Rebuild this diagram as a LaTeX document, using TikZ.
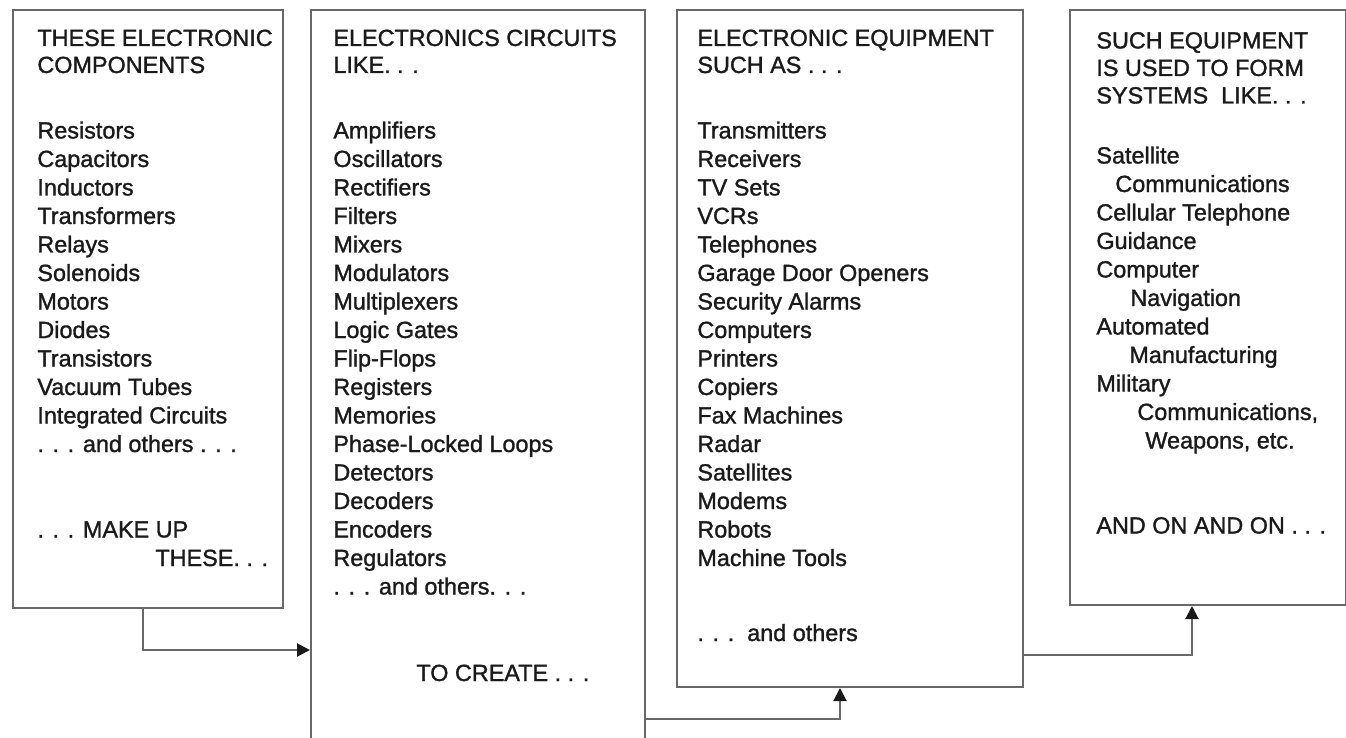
\documentclass[tikz,border=0pt]{standalone}
\usepackage{fontspec}
\setmainfont{Liberation Sans}[FakeBold=1.3]
\usetikzlibrary{arrows.meta}
\definecolor{ink}{HTML}{1A1A1A}
\definecolor{linegray}{HTML}{686868}
\begin{document}
\begin{tikzpicture}[x=0.5pt,y=-0.5pt,
  box/.style={draw=linegray, line width=1pt, inner sep=0pt, anchor=north west},
  txt/.style={anchor=base west, inner sep=0pt, text=ink, font=\fontsize{11.7}{13}\selectfont},
  arr/.style={draw=linegray, line width=1pt, -{Triangle[length=6.5pt,width=6.5pt,color=ink]}}]
\useasboundingbox (0,0) rectangle (1346,738);
% boxes
\node[box, minimum width=135pt, minimum height=299pt] (b1) at (12,9) {};
\node[box, minimum width=167pt, minimum height=380pt] (b2) at (310,9) {};
\node[box, minimum width=173pt, minimum height=338.5pt] (b3) at (676,9) {};
\node[box, minimum width=138pt, minimum height=297.5pt] (b4) at (1069,9) {};
% box 1
\node[txt] (h11) at (37,46) {THESE ELECTRONIC};
\node[txt] (h12) at (37,73) {COMPONENTS};
\foreach \s [count=\i] in {Resistors,Capacitors,Inductors,Transformers,Relays,Solenoids,Motors,Diodes,Transistors,Vacuum Tubes,Integrated Circuits,{. . . and others . . .}}
  \node[txt] (a\i) at (37,{138.5+28.5*(\i-1)}) {\s};
\node[txt] (mk) at (37,537.5) {. . . MAKE UP};
\node[txt] (th) at (155,566) {THESE. . .};
% box 2
\node[txt] (h21) at (333,46) {ELECTRONICS CIRCUITS};
\node[txt] (h22) at (333,73) {LIKE. . .};
\foreach \s [count=\i] in {Amplifiers,Oscillators,Rectifiers,Filters,Mixers,Modulators,Multiplexers,Logic Gates,Flip-Flops,Registers,Memories,Phase-Locked Loops,Detectors,Decoders,Encoders,Regulators,{. . . and others. . .}}
  \node[txt] (c\i) at (333,{138.5+28.5*(\i-1)}) {\s};
\node[txt] (tc) at (416,681) {TO CREATE . . .};
% box 3
\node[txt] (h31) at (697,46) {ELECTRONIC EQUIPMENT};
\node[txt] (h32) at (697,73) {SUCH AS . . .};
\foreach \s [count=\i] in {Transmitters,Receivers,TV Sets,VCRs,Telephones,Garage Door Openers,Security Alarms,Computers,Printers,Copiers,Fax Machines,Radar,Satellites,Modems,Robots,Machine Tools}
  \node[txt] (e\i) at (697,{138.5+28.5*(\i-1)}) {\s};
\node[txt] (eo) at (697,641) {. . .\ \ and others};
% box 4
\node[txt] (h41) at (1096,48.5) {SUCH EQUIPMENT};
\node[txt] (h42) at (1096,76) {IS USED TO FORM};
\node[txt] (h43) at (1096,103.5) {SYSTEMS\ \ LIKE. . .};
\foreach \x/\s [count=\i] in {1096/Satellite,1115/Communications,1096/Cellular Telephone,1096/Guidance,1096/Computer,1130/Navigation,1096/Automated,1129/Manufacturing,1096/Military,1137/{Communications,},1145/{Weapons, etc.}}
  \node[txt] (s\i) at (\x,{163.5+28.5*(\i-1)}) {\s};
\node[txt] (ao) at (1096,533.5) {AND ON AND ON . . .};
% connectors
\draw[arr] (b1.south -| 143,0) |- (b2.west |- 0,650);
\draw[arr] (b2.east |- 0,719) -| (b3.south -| 840,0);
\draw[arr] (b3.east |- 0,655) -| (b4.south -| 1192,0);
\end{tikzpicture}
\end{document}
